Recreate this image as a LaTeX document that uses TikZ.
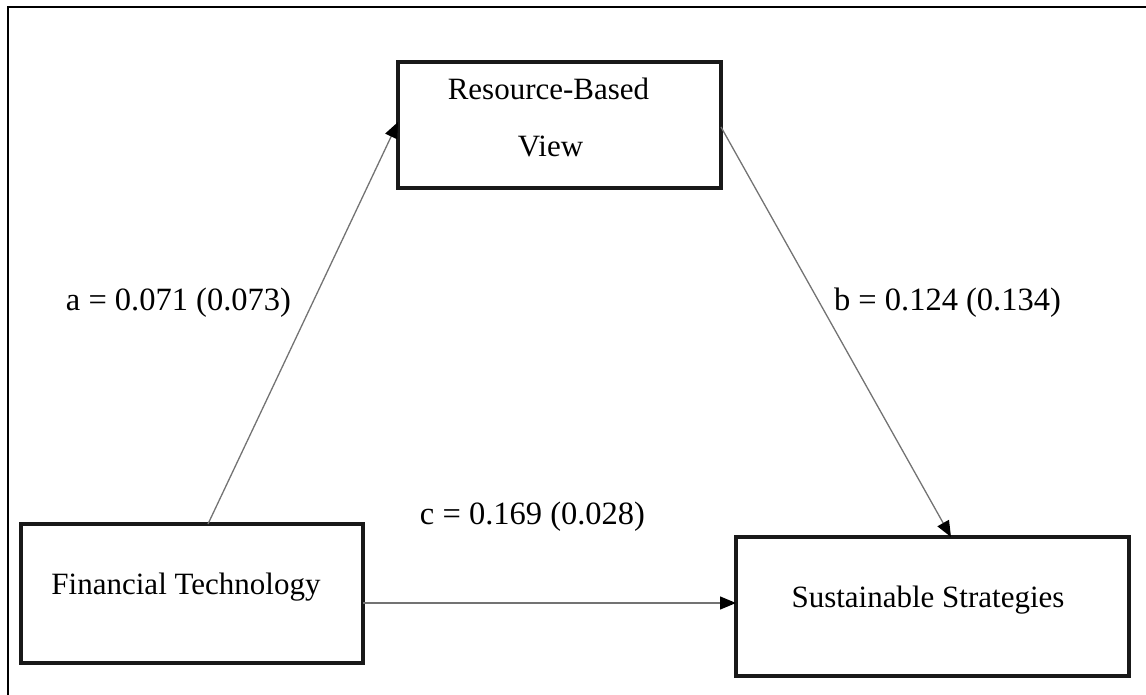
\documentclass[tikz,border=0pt]{standalone}
\usepackage{fontspec}
\setmainfont{Liberation Serif}
\usetikzlibrary{arrows.meta}

\tikzset{
  box/.style={draw=black!90, line width=3.2pt, rectangle, inner sep=0pt, outer sep=0pt},
  boxtext/.style={anchor=base, inner sep=0pt, font=\fontsize{31}{36}\selectfont},
  pathlabel/.style={anchor=base, inner sep=0pt, font=\fontsize{32.5}{38}\selectfont},
  link/.style={draw=black!55, line width=1.3pt, -{Triangle[length=16pt,width=13pt,fill=black,color=black]}}
}

\begin{document}
\begin{tikzpicture}[x=1pt, y=-1pt]
  \useasboundingbox (0,0) rectangle (1146,695);

  % frame: top and left rules only
  \draw[line width=1.8pt, black] (8,695) -- (8,7) -- (1146,7);

  % construct boxes
  \node[box, minimum width=323pt, minimum height=126pt] (rbv) at (559.5,125) {};
  \node[box, minimum width=342pt, minimum height=139pt] (fin) at (192,593.5) {};
  \node[box, minimum width=393pt, minimum height=139pt] (ss)  at (932.5,606.5) {};

  % box captions
  \node[boxtext] (rbvA) at (548.5,100) {Resource-Based};
  \node[boxtext] (rbvB) at (550.5,157) {View};
  \node[boxtext] (finT) at (186,594) {Financial Technology};
  \node[boxtext] (ssT)  at (928,607) {Sustainable Strategies};

  % paths
  \draw[link] ([xshift=187pt]fin.north west) -- ([yshift=3pt]rbv.west);
  \draw[link] ([yshift=-2pt]rbv.east) -- ([xshift=18.5pt]ss.north);
  \draw[link] ([yshift=-9.5pt]fin.east) -- ([yshift=-9.5pt]fin.east -| ss.west);

  % path coefficients
  \node[pathlabel] (la) at (178.5,310) {a = 0.071 (0.073)};
  \node[pathlabel] (lb) at (947.5,310) {b = 0.124 (0.134)};
  \node[pathlabel] (lc) at (532.5,524) {c = 0.169 (0.028)};
\end{tikzpicture}
\end{document}
